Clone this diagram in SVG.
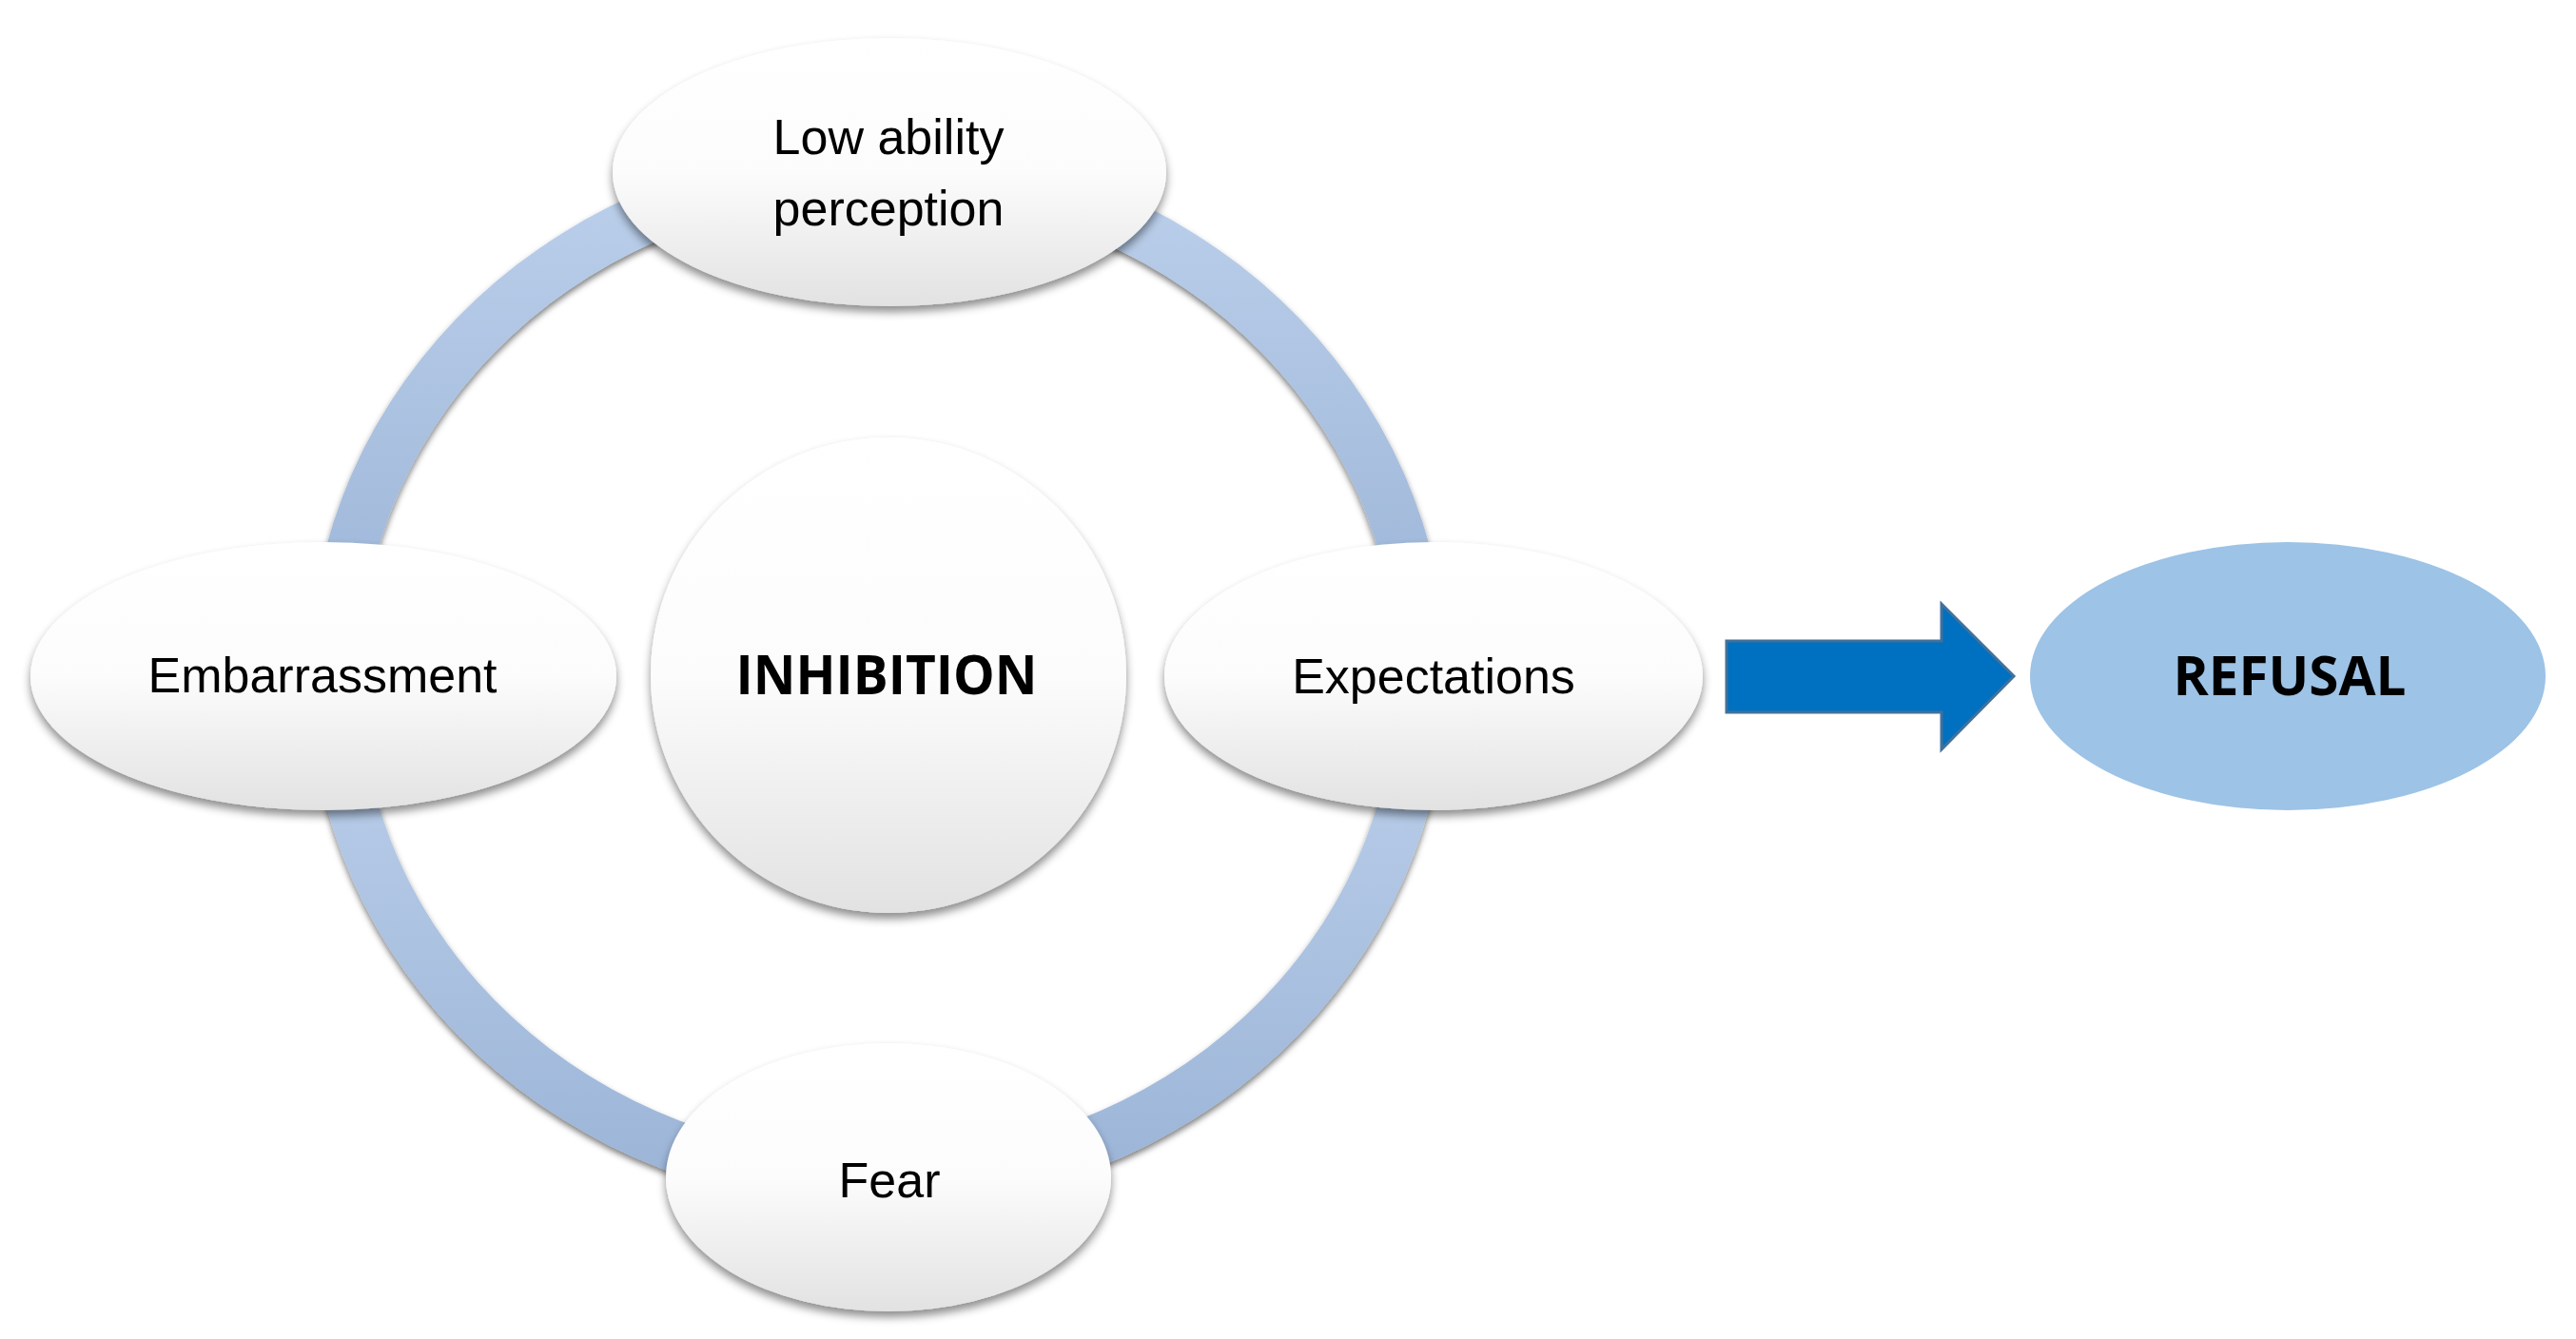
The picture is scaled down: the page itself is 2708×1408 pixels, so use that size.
<svg xmlns="http://www.w3.org/2000/svg" width="2708" height="1408" viewBox="0 0 2708 1408">
  <defs>
    <linearGradient id="nodeGrad" x1="0" y1="0" x2="0" y2="1">
      <stop offset="0" stop-color="#FFFFFF"/>
      <stop offset="0.5" stop-color="#FCFCFC"/>
      <stop offset="1" stop-color="#E2E2E2"/>
    </linearGradient>
    <linearGradient id="ringGrad" x1="0" y1="0" x2="0" y2="1">
      <stop offset="0" stop-color="#BDD1EC"/>
      <stop offset="1" stop-color="#9AB3D6"/>
    </linearGradient>
    <filter id="nodeShadow" x="-10%" y="-10%" width="120%" height="125%">
      <feDropShadow dx="0" dy="6" stdDeviation="5" flood-color="#000000" flood-opacity="0.45"/>
    </filter>
    <filter id="ringShadow" x="-10%" y="-10%" width="120%" height="120%">
      <feDropShadow dx="0" dy="4" stdDeviation="3" flood-color="#000000" flood-opacity="0.5"/>
    </filter>
  </defs>
  <style>
    .node { fill: url(#nodeGrad); filter: url(#nodeShadow); }
    .arc { fill: url(#ringGrad); filter: url(#ringShadow); }
    .lbl { font-family: "Liberation Sans", Arial, sans-serif; font-size: 52px; fill: #000000; text-anchor: middle; }
    .bold { font-family: "Open Sans", "Noto Sans", sans-serif; font-weight: 700; font-size: 57px; fill: #000000; text-anchor: middle; }
  </style>
  <rect x="0" y="0" width="2708" height="1408" fill="#FFFFFF"/>

  <g id="connectors">
    <path class="arc" d="M 325 711 A 598 560 0 0 1 923 151 L 923 205 A 545 506 0 0 0 378 711 Z"/>
    <path class="arc" d="M 923 151 A 598 560 0 0 1 1521 711 L 1468 711 A 545 506 0 0 0 923 205 Z"/>
    <path class="arc" d="M 1521 711 A 598 560 0 0 1 923 1271 L 923 1217 A 545 506 0 0 0 1468 711 Z"/>
    <path class="arc" d="M 923 1271 A 598 560 0 0 1 325 711 L 378 711 A 545 506 0 0 0 923 1217 Z"/>
    <polygon id="arrow" points="1815,674 2041,674 2041,635 2117,711 2041,788 2041,749 1815,749" fill="#0070C0" stroke="#41719C" stroke-width="3" stroke-linejoin="miter"/>
  </g>

  <g id="node-low-ability">
    <ellipse class="node" cx="935" cy="181" rx="291" ry="141"/>
    <text class="lbl" x="934" y="162">Low ability</text>
    <text class="lbl" x="934" y="237">perception</text>
  </g>
  <g id="node-embarrassment">
    <ellipse class="node" cx="340" cy="711" rx="308" ry="141"/>
    <text class="lbl" x="339" y="728">Embarrassment</text>
  </g>
  <g id="node-expectations">
    <ellipse class="node" cx="1507" cy="711" rx="283" ry="141"/>
    <text class="lbl" x="1507" y="729">Expectations</text>
  </g>
  <g id="node-fear">
    <ellipse class="node" cx="934" cy="1238" rx="234" ry="141"/>
    <text class="lbl" x="935" y="1259">Fear</text>
  </g>
  <g id="node-inhibition">
    <circle class="node" cx="934" cy="710" r="250"/>
    <text class="bold" x="932" y="730" textLength="317" lengthAdjust="spacingAndGlyphs">INHIBITION</text>
  </g>
  <g id="node-refusal">
    <ellipse cx="2405" cy="711" rx="271" ry="141" fill="#9DC3E6"/>
    <text class="bold" x="2407" y="731" textLength="245" lengthAdjust="spacingAndGlyphs">REFUSAL</text>
  </g>
</svg>
